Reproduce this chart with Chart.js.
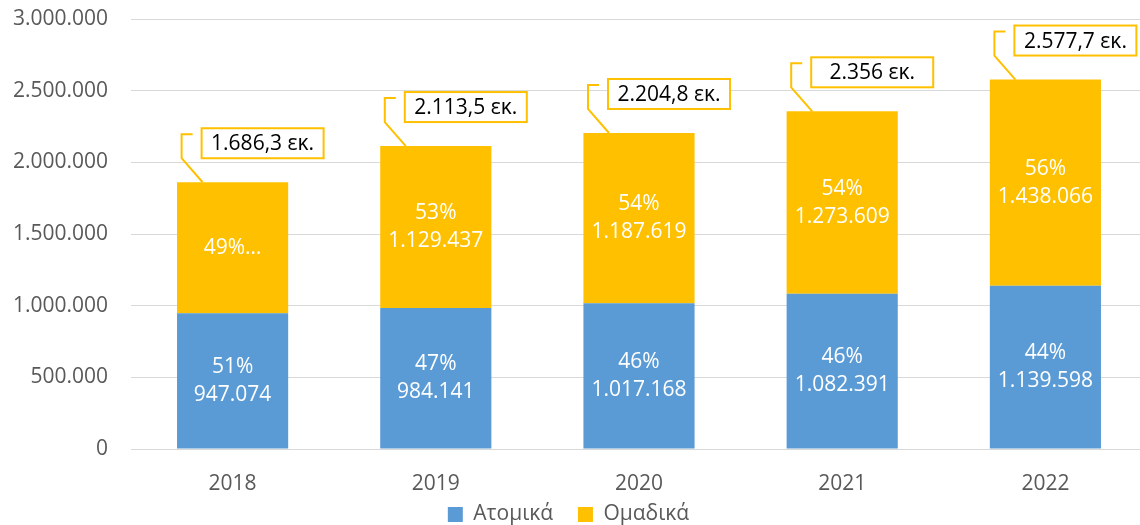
<!DOCTYPE html>
<html>
<head>
<meta charset="utf-8">
<script src="https://cdn.jsdelivr.net/npm/chart.js@4.4.0/dist/chart.umd.min.js"></script>
<style>
  html, body { margin: 0; padding: 0; background: #fff; overflow: hidden; width: 1140px; height: 525px; }
  #wrap { width: 1150px; height: 525px; position: relative; }
</style>
</head>
<body>
<div id="wrap"><canvas id="c" width="1150" height="525"></canvas></div>
<script>
const categories = ['2018', '2019', '2020', '2021', '2022'];
const seriesNames = ['Ατομικά', 'Ομαδικά'];
const atomika = [947074, 984141, 1017168, 1082391, 1139598];
const omadika = [914000, 1129437, 1187619, 1273609, 1438066];
const atomikaPct = ['51%', '47%', '46%', '46%', '44%'];
const omadikaLabels = [['49%…'], ['53%', '1.129.437'], ['54%', '1.187.619'], ['54%', '1.273.609'], ['56%', '1.438.066']];
const totalLabels = ['1.686,3 εκ.', '2.113,5 εκ.', '2.204,8 εκ.', '2.356 εκ.', '2.577,7 εκ.'];
const yTicks = [0, 500000, 1000000, 1500000, 2000000, 2500000, 3000000];

const FONT = '"Open Sans", "Noto Sans", sans-serif';
const fmt = v => String(v).replace(/\B(?=(\d{3})+(?!\d))/g, '.');

const labelPlugin = {
  id: 'segLabels',
  afterDatasetsDraw(chart) {
    const ctx = chart.ctx;
    ctx.save();
    ctx.font = '21px ' + FONT;
    ctx.fillStyle = '#ffffff';
    ctx.textAlign = 'center';
    ctx.textBaseline = 'middle';
    const m0 = chart.getDatasetMeta(0), m1 = chart.getDatasetMeta(1);
    m0.data.forEach((el, i) => {
      const mid = (el.y + el.base) / 2;
      ctx.fillText(atomikaPct[i], el.x, mid - 14);
      ctx.fillText(fmt(atomika[i]), el.x, mid + 14);
    });
    m1.data.forEach((el, i) => {
      const mid = (el.y + el.base) / 2;
      const lines = omadikaLabels[i];
      if (lines.length === 1) {
        ctx.fillText(lines[0], el.x, mid);
      } else {
        ctx.fillText(lines[0], el.x, mid - 14);
        ctx.fillText(lines[1], el.x, mid + 14);
      }
    });
    ctx.strokeStyle = '#FFC000';
    ctx.lineWidth = 2;
    m1.data.forEach((el, i) => {
      const cx = el.x, top = el.y;
      ctx.beginPath();
      ctx.moveTo(cx - 30, top);
      ctx.lineTo(cx - 51, top - 24);
      ctx.lineTo(cx - 51, top - 48);
      ctx.lineTo(cx - 40, top - 48);
      ctx.stroke();
      const bx = cx - 31, by = top - 54, bw = 122, bh = 30;
      ctx.fillStyle = '#ffffff';
      ctx.fillRect(bx, by, bw, bh);
      ctx.strokeRect(bx, by, bw, bh);
      ctx.fillStyle = '#000000';
      ctx.textAlign = 'center';
      ctx.fillText(totalLabels[i], bx + bw / 2, by + bh / 2 + 1);
    });
    ctx.restore();
  }
};

const legendShift = {
  id: 'legendShift',
  afterLayout(chart) {
    if (chart.legend) {
      chart.legend.left -= 5; chart.legend.right -= 5;
      chart.legend.top += 10; chart.legend.bottom += 10;
    }
  }
};

new Chart(document.getElementById('c'), {
  type: 'bar',
  data: {
    labels: categories,
    datasets: [
      { label: seriesNames[0], data: atomika, backgroundColor: '#5B9BD5', barPercentage: 0.547, categoryPercentage: 1 },
      { label: seriesNames[1], data: omadika, backgroundColor: '#FFC000', barPercentage: 0.547, categoryPercentage: 1 }
    ]
  },
  options: {
    responsive: false,
    animation: false,
    layout: { padding: { top: 19, right: 3, left: 0, bottom: 0 } },
    plugins: {
      legend: {
        position: 'bottom',
        labels: {
          font: { family: FONT, size: 21 },
          color: '#595959',
          boxWidth: 15,
          boxHeight: 15,
          padding: 3,
          generateLabels(chart) {
            const items = Chart.defaults.plugins.legend.labels.generateLabels(chart);
            items[0].text = items[0].text + '\u00a0\u00a0\u00a0\u00a0';
            return items;
          }
        }
      },
      tooltip: { enabled: false }
    },
    scales: {
      x: {
        stacked: true,
        grid: { display: false },
        border: { display: false },
        afterFit(scale) { scale.height = 42; },
        ticks: { font: { family: FONT, size: 21 }, color: '#595959', padding: 14 }
      },
      y: {
        stacked: true,
        min: 0,
        max: 3000000,
        afterBuildTicks(scale) { scale.ticks = yTicks.map(v => ({ value: v })); },
        afterFit(scale) { scale.width = 131; scale.paddingTop = 0; scale.paddingBottom = 0; },
        grid: { color: '#D9D9D9', lineWidth: 1, drawTicks: false },
        border: { display: false },
        ticks: {
          font: { family: FONT, size: 21 },
          color: '#595959',
          padding: 23,
          callback: v => fmt(v)
        }
      }
    }
  },
  plugins: [labelPlugin, legendShift]
});
</script>
</body>
</html>
